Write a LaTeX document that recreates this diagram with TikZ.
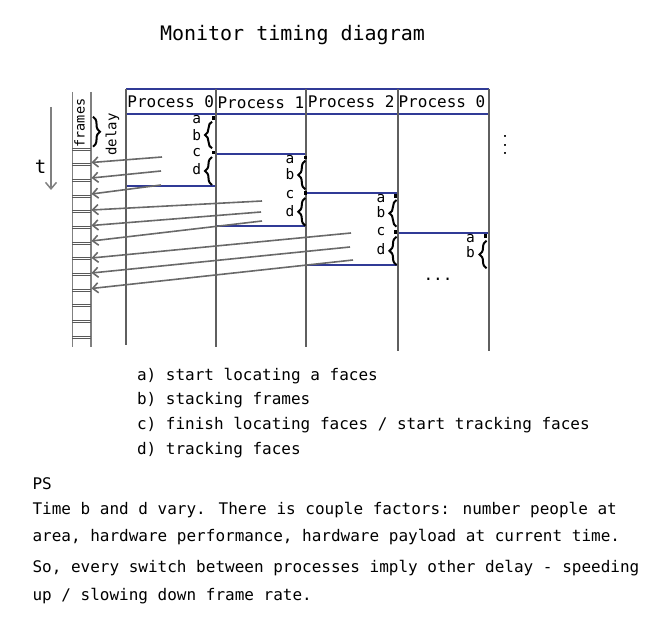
\documentclass[tikz,border=0pt]{standalone}
\usepackage{fontspec}
\setmainfont{DejaVu Sans Mono}
\usetikzlibrary{arrows.meta,decorations.pathreplacing}
\definecolor{pblue}{RGB}{48,58,150}
\definecolor{agray}{RGB}{105,105,105}
\definecolor{lgray}{RGB}{95,95,95}
\begin{document}
\begin{tikzpicture}[x=1pt,y=-1pt,
  txt/.style={inner sep=0pt, outer sep=0pt, font=\fontsize{16pt}{16pt}\selectfont, anchor=base west},
  ttl/.style={inner sep=0pt, outer sep=0pt, font=\fontsize{20pt}{20pt}\selectfont, anchor=base west},
  lbl/.style={inner sep=0pt, outer sep=0pt, font=\fontsize{14.5pt}{14.5pt}\selectfont, anchor=base},
  side/.style={inner sep=0pt, outer sep=0pt, font=\fontsize{14pt}{14pt}\selectfont, rotate=90},
  blueline/.style={draw=pblue, line width=1.8pt},
  pline/.style={draw=lgray, line width=1.2pt},
  fline/.style={draw=agray!85, line width=1.4pt},
  tickline/.style={draw=black!65, line width=0.7pt},
  frarrow/.style={draw=agray, line width=1.6pt, -{Straight Barb[length=5.5pt,width=10pt]}},
  cbrace/.style={decorate, decoration={brace, amplitude=7pt}, line width=2pt},
  marker/.style={fill=black, minimum size=3.6pt, inner sep=0pt, draw=none}
]
\useasboundingbox (0,0) rectangle (660,620);

% title
\node[ttl] (title) at (160,40.5) {Monitor timing diagram};

% header lines
\draw[blueline] (126,89) -- (489,89);
\draw[blueline] (126,114) -- (489,114);
% process timeline lines
\draw[blueline] (126,186) -- (216,186);
\draw[blueline] (216,154) -- (306,154);
\draw[blueline] (216,226) -- (306,226);
\draw[blueline] (306,193) -- (398,193);
\draw[blueline] (306,265) -- (398,265);
\draw[blueline] (398,233) -- (489,233);

% process column lines
\draw[pline] (126,89) -- (126,345);
\draw[pline] (216,89) -- (216,347);
\draw[pline] (306,89) -- (306,347);
\draw[pline] (398,89) -- (398,351);
\draw[pline] (489,89) -- (489,351);

% headers
\node[txt] (h0) at (127.4,107.5) {Process 0};
\node[txt] (h1) at (217.6,108.2) {Process 1};
\node[txt] (h2) at (307.8,107.3) {Process 2};
\node[txt] (h3) at (398.6,107.2) {Process 0};

% frames column
\draw[fline] (72.3,92) -- (72.3,347);
\draw[fline] (91,92) -- (91,347);
\foreach \k in {0,...,12} {
  \draw[tickline] (72.3,{149+15.67*\k-1}) -- (91,{149+15.67*\k-1});
  \draw[tickline] (72.3,{149+15.67*\k+1}) -- (91,{149+15.67*\k+1});
}
\node[side, font=\fontsize{13.5pt}{13.5pt}\selectfont] (frames) at (79.5,123) {frames};
\draw[cbrace] (93,116.7) -- (93,146.7);
\node[side] (delay) at (112.5,134.5) {delay};

% time arrow
\node[inner sep=0pt, font=\fontsize{19pt}{19pt}\selectfont] (t) at (40.5,167) {t};
\coordinate (tA) at (51,107);
\coordinate (tB) at (51,190);
\draw[fline, line width=1.5pt, -{Straight Barb[length=6.5pt,width=11pt]}] (tA) -- (tB);

% Process 0 (first)
\node[lbl] (p0a) at (196.7,123.3) {a};
\node[lbl] (p0b) at (196.7,141) {b};
\node[lbl] (p0c) at (196.7,156.7) {c};
\node[lbl] (p0d) at (196.7,174.3) {d};
\node[marker] (p0ma) at (213.5,118.3) {};
\node[marker] (p0mc) at (213.5,152.7) {};
\draw[cbrace] (212,148.3) -- (212,121.7);
\draw[cbrace] (212,185) -- (212,157);

% Process 1
\node[lbl] (p1a) at (290,163.3) {a};
\node[lbl] (p1b) at (290,180) {b};
\node[lbl] (p1c) at (290,198.3) {c};
\node[lbl] (p1d) at (290,216.7) {d};
\node[marker] (p1ma) at (305.3,157.5) {};
\node[marker] (p1mc) at (305.3,193.3) {};
\draw[cbrace] (305.3,189.3) -- (305.3,160.7);
\draw[cbrace] (305.3,225.7) -- (305.3,198);

% Process 2
\node[lbl] (p2a) at (381,202.3) {a};
\node[lbl] (p2b) at (381,217.3) {b};
\node[lbl] (p2c) at (381,235.7) {c};
\node[lbl] (p2d) at (381,254) {d};
\node[marker] (p2ma) at (395.5,196) {};
\node[marker] (p2mc) at (395.5,231.7) {};
\draw[cbrace] (396.5,226.7) -- (396.5,200);
\draw[cbrace] (396.5,265) -- (396.5,236.7);

% Process 0 (second)
\node[lbl] (p3a) at (470.5,242.3) {a};
\node[lbl] (p3b) at (470.5,257.7) {b};
\node[marker] (p3ma) at (485.5,236) {};
\draw[cbrace] (486.5,268.3) -- (486.5,240.7);

% continuation marks
\node[inner sep=0pt, font=\fontsize{16pt}{16pt}\selectfont, anchor=base] (dotsh) at (438,280) {...};
\node[inner sep=0pt, font=\fontsize{13.5pt}{13.5pt}\selectfont, anchor=base, rotate=90] (dotsv) at (506,145) {...};

% frame arrows
\coordinate (s1) at (162,157);   \coordinate (e1) at (91.5,162.5);
\coordinate (s2) at (161,171);   \coordinate (e2) at (91.5,178);
\coordinate (s3) at (161,185);   \coordinate (e3) at (91.5,194);
\coordinate (s4) at (262,201);   \coordinate (e4) at (91.5,210);
\coordinate (s5) at (261,212);   \coordinate (e5) at (91.5,225.5);
\coordinate (s6) at (262,221);   \coordinate (e6) at (91.5,241);
\coordinate (s7) at (351,233);   \coordinate (e7) at (91.5,258);
\coordinate (s8) at (350,247);   \coordinate (e8) at (91.5,273);
\coordinate (s9) at (353,260);   \coordinate (e9) at (91.5,288.5);
\foreach \i in {1,...,9} { \draw[frarrow] (s\i) -- (e\i); }

% legend
\node[txt] (la) at (137,380) {a) start locating a faces};
\node[txt] (lb) at (137,404.5) {b) stacking frames};
\node[txt] (lc) at (137,429.5) {c) finish locating faces / start tracking faces};
\node[txt] (ld) at (137,454.5) {d) tracking faces};
\node[txt] (ps) at (32.5,489) {PS};
\node[txt] (n1) at (32.5,514.5) {Time b and d vary. There is couple factors: number people at};
\node[txt] (n2) at (32.5,541.5) {area, hardware performance, hardware payload at current time.};
\node[txt] (n3) at (32.5,572) {So, every switch between processes imply other delay - speeding};
\node[txt] (n4) at (32.5,600.5) {up / slowing down frame rate.};
\end{tikzpicture}
\end{document}
